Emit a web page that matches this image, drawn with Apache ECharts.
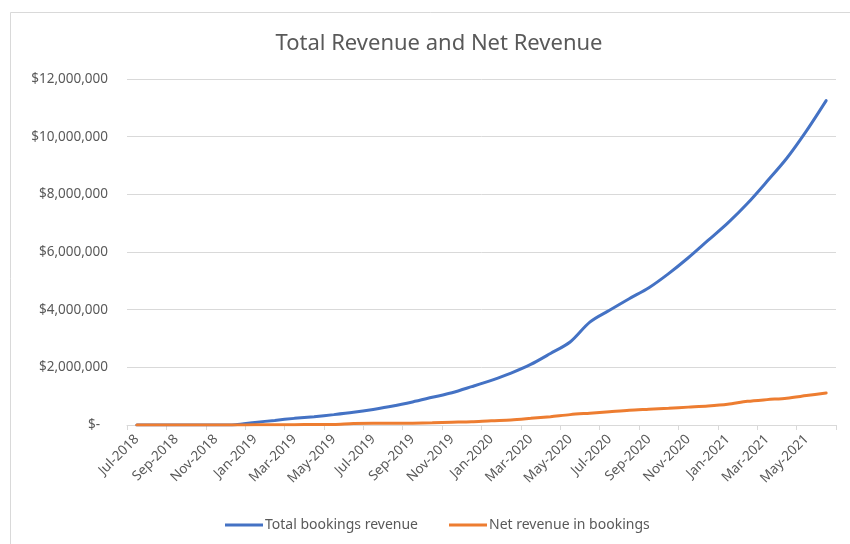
<!DOCTYPE html>
<html>
<head>
<meta charset="utf-8">
<title>Total Revenue and Net Revenue</title>
<script src="https://cdn.jsdelivr.net/npm/echarts@6/dist/echarts.min.js"></script>
<style>
  html, body { margin: 0; padding: 0; background: #ffffff; }
  #chart { width: 850px; height: 544px; }
</style>
</head>
<body>
<div id="chart"></div>
<script>
// Monthly figures, Jul-2018 .. Jun-2021
const months = [
  'Jul-2018','Aug-2018','Sep-2018','Oct-2018','Nov-2018','Dec-2018',
  'Jan-2019','Feb-2019','Mar-2019','Apr-2019','May-2019','Jun-2019',
  'Jul-2019','Aug-2019','Sep-2019','Oct-2019','Nov-2019','Dec-2019',
  'Jan-2020','Feb-2020','Mar-2020','Apr-2020','May-2020','Jun-2020',
  'Jul-2020','Aug-2020','Sep-2020','Oct-2020','Nov-2020','Dec-2020',
  'Jan-2021','Feb-2021','Mar-2021','Apr-2021','May-2021','Jun-2021'
];

const totalBookingsRevenue = [
  0, 0, 0, 0, 0, 10000,
  90000, 160000, 230000, 290000, 360000, 440000,
  540000, 657000, 800000, 960000, 1120000, 1330000,
  1550000, 1800000, 2100000, 2480000, 2880000, 3570000,
  3980000, 4380000, 4760000, 5250000, 5800000, 6400000,
  7000000, 7680000, 8450000, 9250000, 10200000, 11250000
];

const netRevenueInBookings = [
  0, 0, 0, 0, 0, 0,
  5000, 10000, 12000, 15000, 20000, 50000,
  60000, 60000, 65000, 75000, 95000, 115000,
  150000, 175000, 230000, 290000, 360000, 410000,
  460000, 510000, 545000, 580000, 620000, 660000,
  720000, 820000, 880000, 930000, 1020000, 1110000
];

const seriesNames = ['Total bookings revenue', 'Net revenue in bookings'];
const yTicks = { min: 0, max: 12000000, step: 2000000 };

const FONT = '"Noto Sans", "Open Sans", sans-serif';
const TEXT = '#595959';
const GRID = '#d9d9d9';

function money(v) {
  if (v === 0) return '{z|$-}';
  return '$' + v.toLocaleString('en-US');
}

const chart = echarts.init(document.getElementById('chart'), null, { renderer: 'canvas' });

chart.setOption({
  animation: false,
  backgroundColor: '#ffffff',
  textStyle: { fontFamily: FONT },
  graphic: [{
    type: 'rect',
    shape: { x: 10.5, y: 12.5, width: 850, height: 560 },
    style: { fill: 'none', stroke: GRID, lineWidth: 1 },
    silent: true,
    z: -1
  }],
  title: {
    text: 'Total Revenue and Net Revenue',
    left: 434,
    textAlign: 'center',
    top: 28,
    textStyle: { fontFamily: FONT, fontSize: 22, fontWeight: 'normal', color: TEXT }
  },
  legend: {
    data: seriesNames,
    left: 220,
    top: 513,
    icon: 'rect',
    itemWidth: 38,
    itemHeight: 3,
    itemGap: 31,
    textStyle: { fontFamily: FONT, fontSize: 14, color: TEXT, padding: [0, 0, 0, -3] }
  },
  grid: { left: 127, right: 14, top: 79, bottom: 119, containLabel: false },
  xAxis: {
    type: 'category',
    data: months,
    boundaryGap: true,
    axisLine: { show: true, lineStyle: { color: GRID, width: 1 } },
    axisTick: { show: true, interval: 1, length: 5, lineStyle: { color: GRID } },
    axisLabel: {
      interval: 1,
      rotate: 45,
      margin: 12,
      fontFamily: FONT,
      fontSize: 13.5,
      color: TEXT
    },
    splitLine: { show: false }
  },
  yAxis: {
    type: 'value',
    min: yTicks.min,
    max: yTicks.max,
    interval: yTicks.step,
    axisLine: { show: false },
    axisTick: { show: false },
    axisLabel: {
      margin: 19,
      fontFamily: FONT,
      fontSize: 13.5,
      color: TEXT,
      formatter: money,
      rich: { z: { fontFamily: FONT, fontSize: 13.5, color: TEXT, padding: [0, 8, 0, 0] } }
    },
    splitLine: { show: true, lineStyle: { color: GRID, width: 1 } }
  },
  series: [
    {
      name: seriesNames[0],
      type: 'line',
      data: totalBookingsRevenue,
      smooth: 0.3,
      symbol: 'none',
      lineStyle: { color: '#4472C4', width: 3, cap: 'round' },
      itemStyle: { color: '#4472C4' },
      z: 2
    },
    {
      name: seriesNames[1],
      type: 'line',
      data: netRevenueInBookings,
      smooth: 0.3,
      symbol: 'none',
      lineStyle: { color: '#ED7D31', width: 3, cap: 'round' },
      itemStyle: { color: '#ED7D31' },
      z: 3
    }
  ]
});
</script>
</body>
</html>
